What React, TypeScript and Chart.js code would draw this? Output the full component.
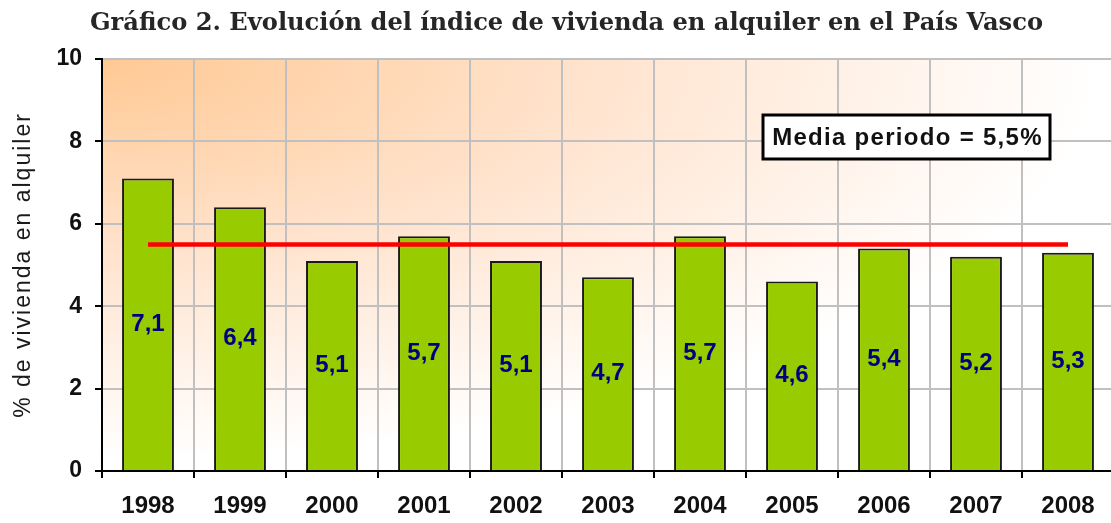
import React, { useEffect, useRef } from 'react';
import { Chart, registerables } from 'chart.js';

Chart.register(...registerables);

const TITLE = 'Gráfico 2. Evolución del índice de vivienda en alquiler en el País Vasco';
const Y_TITLE = '% de vivienda en alquiler';
const NOTE = 'Media periodo = 5,5%';

const years = ['1998', '1999', '2000', '2001', '2002', '2003', '2004', '2005', '2006', '2007', '2008'];
const values = [7.1, 6.4, 5.1, 5.7, 5.1, 4.7, 5.7, 4.6, 5.4, 5.2, 5.3];
const mediaLine = [5.5, 5.5, 5.5, 5.5, 5.5, 5.5, 5.5, 5.5, 5.5, 5.5, 5.5];
const yMin = 0;
const yMax = 10;
const yStep = 2;

const SANS = '"Liberation Sans", Arial, sans-serif';

const bgPlugin = {
  id: 'bgGradient',
  beforeDraw(chart: any) {
    const { ctx, chartArea } = chart;
    const { left, top, width, height } = chartArea;
    ctx.save();
    ctx.beginPath();
    ctx.rect(left, top, width, height);
    ctx.clip();
    ctx.translate(left, top);
    ctx.scale(1, 0.4);
    const g = ctx.createRadialGradient(0, 0, 0, 0, 0, 1000);
    g.addColorStop(0, '#ffc994');
    g.addColorStop(0.5, '#ffe4cf');
    g.addColorStop(1, '#ffffff');
    ctx.fillStyle = g;
    ctx.fillRect(0, 0, width, height / 0.4);
    ctx.restore();
  },
};

const labelPlugin = {
  id: 'barLabels',
  afterDatasetsDraw(chart: any) {
    const { ctx } = chart;
    const meta = chart.getDatasetMeta(0);
    ctx.save();
    ctx.font = `bold 24px ${SANS}`;
    ctx.fillStyle = '#000080';
    ctx.textAlign = 'center';
    ctx.textBaseline = 'middle';
    meta.data.forEach((el: any, i: number) => {
      const v = chart.data.datasets[0].data[i] as number;
      const txt = v.toFixed(1).replace('.', ',');
      ctx.fillText(txt, el.x, (el.y + el.base) / 2);
    });
    ctx.restore();
  },
};

const decorPlugin = {
  id: 'decor',
  afterDraw(chart: any) {
    const { ctx, chartArea } = chart;
    // main title
    ctx.save();
    ctx.font = `bold 24px "DejaVu Serif", serif`;
    ctx.fillStyle = '#262626';
    ctx.textAlign = 'left';
    ctx.textBaseline = 'alphabetic';
    const w = ctx.measureText(TITLE).width;
    const sx = 953 / w;
    ctx.translate(90, 30);
    ctx.scale(sx, 1);
    ctx.fillText(TITLE, 0, 0);
    ctx.restore();

    // y axis title
    ctx.save();
    ctx.translate(24, (chartArea.top + chartArea.bottom) / 2);
    ctx.rotate(-Math.PI / 2);
    ctx.font = `23px ${SANS}`;
    (ctx as any).letterSpacing = '2px';
    ctx.fillStyle = '#1a1a1a';
    ctx.textAlign = 'center';
    ctx.textBaseline = 'middle';
    ctx.fillText(Y_TITLE, 0, 0);
    ctx.restore();

    // note box
    ctx.save();
    const bx = 763, by = 115, bw = 287, bh = 44;
    ctx.fillStyle = '#ffffff';
    ctx.fillRect(bx, by, bw, bh);
    ctx.strokeStyle = '#000000';
    ctx.lineWidth = 3;
    ctx.strokeRect(bx, by, bw, bh);
    ctx.font = `bold 24px ${SANS}`;
    (ctx as any).letterSpacing = '1.3px';
    ctx.fillStyle = '#111111';
    ctx.textAlign = 'center';
    ctx.textBaseline = 'middle';
    ctx.fillText(NOTE, bx + bw / 2 + 1, by + bh / 2 + 1);
    ctx.restore();
  },
};

export default function App() {
  const ref = useRef<HTMLCanvasElement | null>(null);

  useEffect(() => {
    if (!ref.current) return;
    const chart = new Chart(ref.current, {
      type: 'bar',
      data: {
        labels: years,
        datasets: [
          {
            type: 'bar',
            data: values,
            backgroundColor: '#99cc00',
            borderColor: '#1a1a1a',
            borderWidth: 2,
            barPercentage: 0.564,
            categoryPercentage: 1,
            order: 1,
          },
          {
            type: 'line',
            data: mediaLine,
            borderColor: '#ff0000',
            borderWidth: 4.5,
            pointRadius: 0,
            fill: false,
            order: 0,
          } as any,
        ],
      },
      options: {
        animation: false,
        responsive: false,
        devicePixelRatio: 1,
        layout: { padding: { left: 0, top: 59, right: 6, bottom: 0 } },
        plugins: {
          legend: { display: false },
          tooltip: { enabled: false },
          title: { display: false },
        },
        scales: {
          x: {
            offset: true,
            grid: {
              offset: true,
              color: '#c0c0c0',
              lineWidth: 2,
              tickColor: '#000000',
              tickLength: 7,
              tickWidth: 2,
            },
            border: { color: '#000000', width: 2 },
            ticks: {
              color: '#111111',
              font: { family: SANS, size: 24, weight: 'bold' },
              padding: 14,
              maxRotation: 0,
            },
            afterFit: (s: any) => {
              s.height = 52;
            },
          },
          y: {
            min: yMin,
            max: yMax,
            grid: {
              color: '#c0c0c0',
              lineWidth: 2,
              tickColor: '#000000',
              tickLength: 7,
              tickWidth: 2,
            },
            border: { color: '#000000', width: 2 },
            ticks: {
              stepSize: yStep,
              color: '#111111',
              font: { family: SANS, size: 23, weight: 'bold' },
              padding: 13,
            },
            afterFit: (s: any) => {
              s.width = 102;
            },
          },
        },
      },
      plugins: [bgPlugin, labelPlugin, decorPlugin],
    });
    return () => chart.destroy();
  }, []);

  return (
    <div style={{ position: 'absolute', left: 0, top: 0, width: 1111, height: 523, overflow: 'hidden', background: '#ffffff' }}>
      <canvas ref={ref} width={1120} height={523} style={{ display: 'block', width: 1120, height: 523 }} />
    </div>
  );
}
